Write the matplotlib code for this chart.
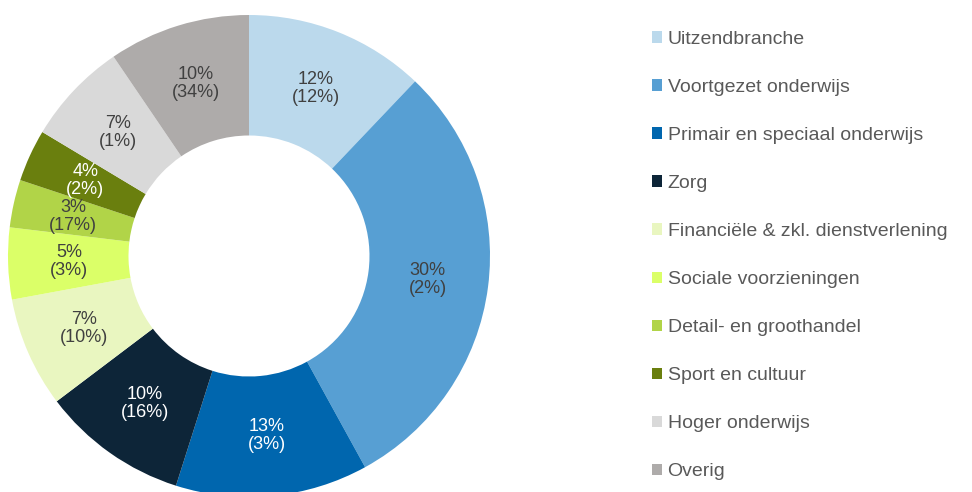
import matplotlib
matplotlib.use("Agg")
import matplotlib.pyplot as plt
import numpy as np

sectoren = ["Uitzendbranche", "Voortgezet onderwijs", "Primair en speciaal onderwijs",
            "Zorg", "Financiële & zkl. dienstverlening", "Sociale voorzieningen",
            "Detail- en groothandel", "Sport en cultuur", "Hoger onderwijs", "Overig"]
aandeel = [12.1, 29.9, 12.9, 9.8, 7.4, 4.8, 3.2, 3.5, 6.9, 9.5]
label_pct = [12, 30, 13, 10, 7, 5, 3, 4, 7, 10]
tussen_haakjes = [12, 2, 3, 16, 10, 3, 17, 2, 1, 34]
kleuren = ["#BBD9EC", "#579FD3", "#0066AE", "#0D2538", "#E9F6C0",
           "#DBFF68", "#B1D448", "#6A7F0E", "#D9D9D9", "#AEABAA"]
tekstkleur = ["#404040", "#404040", "white", "white", "#404040",
              "#404040", "#404040", "white", "#404040", "#404040"]

plt.rcParams["font.family"] = ["Liberation Sans", "DejaVu Sans"]

fig = plt.figure(figsize=(9.72, 4.92), dpi=100)
W, H = 972, 492
cx, cy, r = 249, 256, 241
ax = fig.add_axes([(cx - r) / W, (H - cy - r) / H, 2 * r / W, 2 * r / H])

wedges, _ = ax.pie(aandeel, colors=kleuren, startangle=90, counterclock=False,
                   radius=1.0, wedgeprops=dict(width=0.5, linewidth=0))
ax.set_xlim(-1, 1)
ax.set_ylim(-1, 1)
ax.axis("off")

totaal = sum(aandeel)
hoek = 90.0
for i, w in enumerate(aandeel):
    mid = hoek - w / totaal * 360 / 2
    hoek -= w / totaal * 360
    x = 0.748 * np.cos(np.radians(mid))
    y = 0.748 * np.sin(np.radians(mid))
    ax.text(x, y, f"{label_pct[i]}%\n({tussen_haakjes[i]}%)", ha="center", va="center",
            fontsize=13, color=tekstkleur[i], linespacing=1.1)

fig.legend(wedges, sectoren, loc="upper left", bbox_to_anchor=(652 / W, 1 - 31 / H),
           frameon=False, fontsize=14, labelcolor="#595959",
           handlelength=0.52, handleheight=0.52, handletextpad=0.28,
           labelspacing=1.595, borderaxespad=0, borderpad=0)

fig.savefig("out.png", dpi=100)
